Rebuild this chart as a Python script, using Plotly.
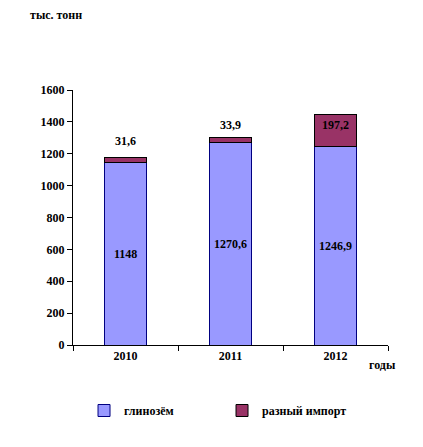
import plotly.graph_objects as go

years = ["2010", "2011", "2012"]
alumina = [1148, 1270.6, 1246.9]
other_import = [31.6, 33.9, 197.2]
alumina_labels = ["1148", "1270,6", "1246,9"]
other_labels = ["31,6", "33,9", "197,2"]
y_ticks = [0, 200, 400, 600, 800, 1000, 1200, 1400, 1600]

FONT = "Liberation Serif"
BFONT = dict(family=FONT, size=12, color="black", weight="bold")

fig = go.Figure()
fig.add_trace(go.Bar(
    x=years, y=alumina, name="глинозём",
    marker=dict(color="#9999FF", line=dict(color="#000080", width=1)),
    width=0.4,
))
fig.add_trace(go.Bar(
    x=years, y=other_import, name="разный импорт",
    marker=dict(color="#993366", line=dict(color="#000000", width=1)),
    width=0.4,
))

# labels for alumina (middle of bar); category axis annotations use index positions
for i, (v, t) in enumerate(zip(alumina, alumina_labels)):
    fig.add_annotation(x=i, y=v / 2, text=t, showarrow=False, font=BFONT)
# labels for other import
for i, (a, v, t) in enumerate(zip(alumina, other_import, other_labels)):
    top = a + v
    if v > 100:
        fig.add_annotation(x=i, y=top, text=t, showarrow=False,
                           yanchor="top", yshift=-1, font=BFONT)
    else:
        fig.add_annotation(x=i, y=top, text=t, showarrow=False,
                           yanchor="bottom", yshift=3 if i == 1 else 7, font=BFONT)

fig.add_annotation(text="тыс. тонн", xref="paper", yref="paper",
                   x=-0.143, y=1.294, xanchor="left", yanchor="middle", showarrow=False,
                   font=dict(family=FONT, size=12, color="black", weight="bold"))
fig.add_annotation(text="годы", xref="paper", yref="paper",
                   x=0.933, y=-0.078, xanchor="left", yanchor="middle", showarrow=False,
                   font=dict(family=FONT, size=12, color="black", weight="bold"))

fig.update_layout(
    width=423, height=447,
    margin=dict(l=65, r=43, t=82, b=110, autoexpand=False),
    barmode="stack",
    plot_bgcolor="white", paper_bgcolor="white",
    font=dict(family=FONT, size=12, color="black"),
    showlegend=True,
    legend=dict(orientation="h", x=0.035, y=-0.2, xanchor="left", yanchor="top",
                traceorder="normal", entrywidth=93, entrywidthmode="pixels",
                font=dict(family=FONT, size=12, color="black", weight="bold")),
    xaxis=dict(type="category", range=[-0.5, 2.5], showline=True, linecolor="black",
               linewidth=1, ticks="outside", ticklen=5, tickcolor="black",
               tickson="boundaries", tickfont=BFONT, showgrid=False),
    yaxis=dict(range=[0, 1600], tickvals=y_ticks, showline=True, linecolor="black",
               linewidth=1, ticks="outside", ticklen=5, tickcolor="black",
               showgrid=False, zeroline=False, tickfont=BFONT),
)

fig.write_html("out.html")
